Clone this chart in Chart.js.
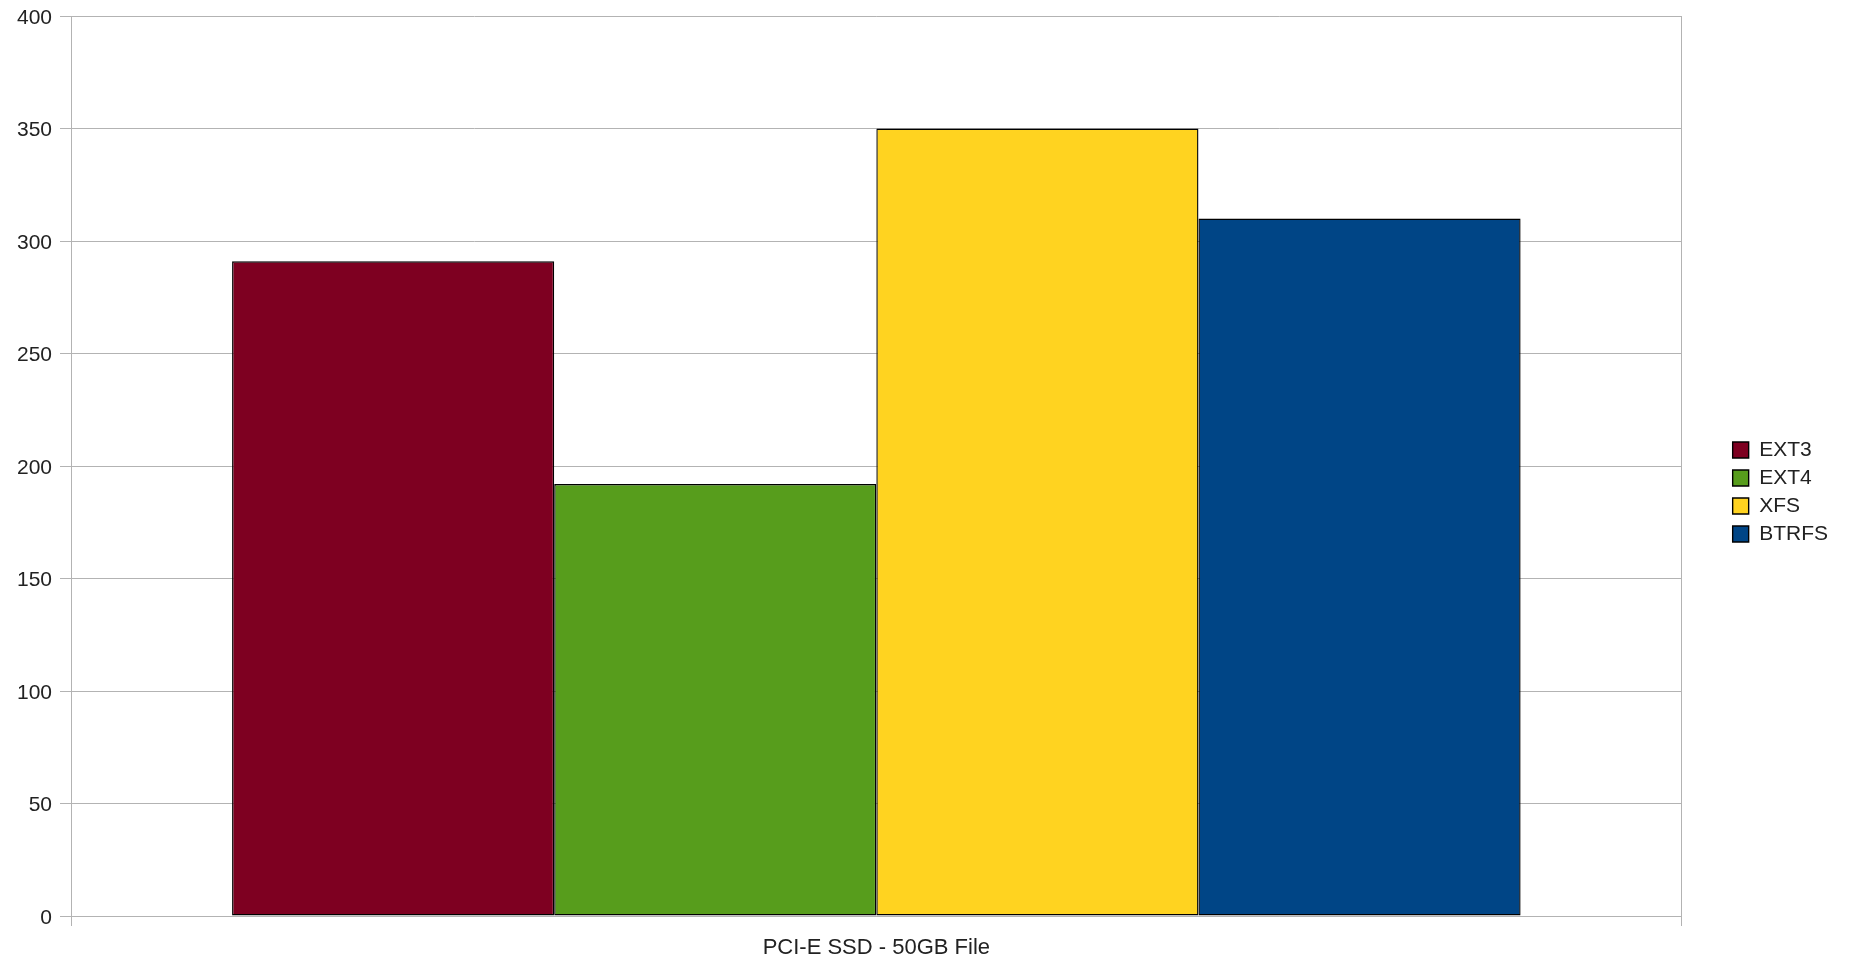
<!DOCTYPE html>
<html>
<head>
<meta charset="utf-8">
<script src="https://cdn.jsdelivr.net/npm/chart.js@4/dist/chart.umd.min.js"></script>
<style>
  html, body { margin: 0; padding: 0; background: #fff; }
  #wrap { width: 1849px; height: 958px; }
</style>
</head>
<body>
<div id="wrap"><canvas id="myBar"></canvas></div>
<script>
const categories = ["PCI-E SSD - 50GB File"];
const seriesNames = ["EXT3", "EXT4", "XFS", "BTRFS"];
const ext3 = [291];
const ext4 = [192];
const xfs = [350];
const btrfs = [310];
const yTicks = [0, 50, 100, 150, 200, 250, 300, 350, 400];
const colors = ["#7e0021", "#579d1c", "#ffd320", "#004586"];

Chart.defaults.font.family = "'Liberation Sans', Arial, sans-serif";
Chart.defaults.font.size = 21;
Chart.defaults.color = "#222";

const values = [ext3, ext4, xfs, btrfs];
let a = document.getElementById("myBar");
let barChart = new Chart(a, {
  type: 'bar',
  data: {
    labels: categories,
    datasets: seriesNames.map((name, i) => ({
      label: name,
      data: values[i],
      backgroundColor: colors[i],
      borderColor: "#000",
      borderWidth: 1.4,
      borderSkipped: false,
      categoryPercentage: 0.8,
      barPercentage: 1.0
    }))
  },
  options: {
    responsive: true,
    maintainAspectRatio: false,
    animation: false,
    layout: { padding: { top: 16, left: 17, right: 11, bottom: 0 } },
    plugins: {
      tooltip: { enabled: false },
      legend: {
        position: 'right',
        title: { display: true, text: ' ', padding: 0, font: { size: 8, lineHeight: 1.25 } },
        labels: {
          boxWidth: 16,
          boxHeight: 16,
          padding: 7,
          color: "#222",
          font: { size: 21 }
        }
      }
    },
    scales: {
      x: {
        grid: { color: "#b3b3b3", tickLength: 10, offset: true },
        border: { color: "#b3b3b3" },
        ticks: { padding: 11, font: { size: 22, lineHeight: 1.0 } },
        afterFit: s => { s.height = 42; s.paddingLeft = 0; s.paddingRight = 0; }
      },
      y: {
        min: 0,
        max: 400,
        afterBuildTicks: s => { s.ticks = yTicks.map(v => ({ value: v })); },
        grid: { color: "#b3b3b3", tickLength: 11 },
        border: { color: "#b3b3b3" },
        ticks: { padding: 8, labelOffset: 2 },
        afterFit: s => { s.width = 54; s.paddingTop = 0; s.paddingBottom = 0; }
      },
      gap: {
        position: 'right',
        display: true,
        grid: { display: false },
        border: { display: false },
        ticks: { display: false },
        afterFit: s => { s.width = 44; s.paddingTop = 0; s.paddingBottom = 0; }
      }
    }
  }
});
</script>
</body>
</html>
